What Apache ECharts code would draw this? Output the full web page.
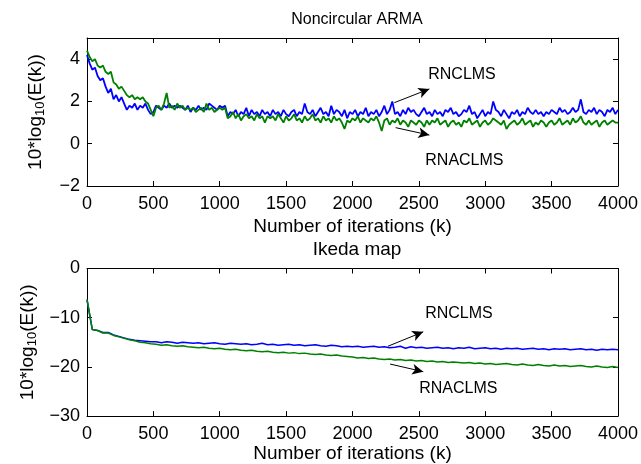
<!DOCTYPE html>
<html>
<head>
<meta charset="utf-8">
<script src="https://cdn.jsdelivr.net/npm/echarts@6/dist/echarts.min.js"></script>
<style>
html,body{margin:0;padding:0;background:#fff;}
#chart{width:641px;height:464px;}
</style>
</head>
<body>
<div id="chart"></div>
<script>
// ---------- data ----------
const titles = ['Noncircular ARMA', 'Ikeda map'];
const xAxisName = 'Number of iterations (k)';
const seriesNames = ['RNCLMS', 'RNACLMS'];
const xTicks = [0, 500, 1000, 1500, 2000, 2500, 3000, 3500, 4000];
const topYTicks = [-2, 0, 2, 4];
const bottomYTicks = [-30, -20, -10, 0];

// Noncircular ARMA, one value every 20 iterations (k = 0..4000)
const topStep = 20;
const topRNCLMS = [
  4.2,3.8,3.5,3.6,3.2,3.0,3.1,2.7,2.4,2.6,
  2.1,2.3,2.0,2.2,1.9,1.6,1.8,1.7,1.9,1.6,
  1.8,1.7,1.9,1.6,1.4,1.5,1.8,1.7,1.6,1.8,
  1.7,1.9,1.7,1.8,1.7,1.8,1.7,1.6,1.8,1.5,
  1.7,1.6,1.8,1.6,1.7,1.6,1.9,1.8,1.7,1.6,
  1.8,1.7,1.8,1.3,1.5,1.4,1.6,1.3,1.5,1.4,
  1.7,1.3,1.6,1.4,1.5,1.3,1.6,1.4,1.5,1.3,
  1.6,1.4,1.5,1.3,1.6,1.4,1.3,1.5,1.6,1.3,
  1.5,1.4,1.9,1.5,1.4,1.6,1.3,1.5,1.7,1.4,
  1.5,1.3,1.8,1.4,1.6,1.5,1.3,1.6,1.2,1.5,
  1.4,1.6,1.3,1.5,1.4,1.7,1.3,1.5,1.4,1.6,
  1.3,1.5,1.8,1.4,1.6,2.0,1.4,1.5,1.3,1.6,
  1.4,1.7,1.5,1.6,1.4,1.3,1.5,1.7,1.4,1.5,
  1.3,1.6,1.4,1.5,1.3,1.6,1.5,1.7,1.4,1.5,
  1.3,1.4,1.6,1.5,1.8,1.4,1.5,1.2,1.4,1.6,
  1.3,1.5,1.4,2.0,1.6,1.5,1.3,1.6,1.4,1.2,
  1.5,1.4,1.6,1.3,1.5,1.4,1.7,1.5,1.4,1.6,
  1.4,1.5,1.3,1.5,1.4,1.6,1.5,1.4,1.7,1.5,
  1.6,1.4,1.5,1.7,1.5,1.6,2.1,1.5,1.4,1.6,
  1.5,1.7,1.4,1.6,1.5,1.3,1.6,1.5,1.7,1.4,
  1.6
];
const topRNACLMS = [
  4.4,4.1,3.9,4.0,3.7,3.6,3.7,3.4,3.3,3.4,
  2.9,2.8,2.6,2.7,2.5,2.3,2.2,2.3,2.1,2.2,
  2.1,2.2,2.0,1.9,1.6,1.3,1.7,1.8,1.6,1.9,
  2.4,1.7,1.8,1.6,1.9,1.7,1.8,1.6,1.7,1.6,
  1.7,1.5,1.6,1.7,1.5,1.9,1.6,1.7,1.5,1.6,
  1.7,1.6,1.7,1.2,1.3,1.5,1.2,1.4,1.1,1.3,
  1.4,1.2,1.3,1.1,1.4,1.2,1.3,1.0,1.3,1.2,
  1.3,1.1,1.4,1.2,1.0,1.3,1.1,1.2,1.4,1.1,
  1.2,1.0,1.3,1.1,1.2,1.4,1.1,1.2,1.0,1.3,
  1.1,1.2,1.0,1.3,1.1,1.2,1.0,0.7,1.1,1.0,
  1.2,1.1,1.3,1.0,1.2,1.1,1.0,1.2,1.1,1.3,
  1.0,0.6,1.1,1.2,0.9,1.1,1.0,1.2,0.9,1.1,
  1.0,0.8,1.1,1.0,0.9,1.1,1.0,0.8,1.1,0.9,
  1.1,1.0,1.2,0.9,1.0,1.1,0.8,1.0,1.1,0.9,
  1.0,0.8,1.1,1.0,1.2,0.9,1.0,1.1,0.8,1.0,
  1.1,0.9,1.0,1.2,1.1,1.0,0.9,1.1,0.7,0.9,
  1.0,1.1,0.9,1.0,1.2,0.9,1.0,1.1,0.8,1.0,
  0.9,1.1,1.0,0.8,1.0,1.1,0.9,1.0,1.2,0.9,
  1.0,1.1,0.9,1.2,1.0,1.1,1.3,1.0,0.9,1.1,
  0.9,1.0,1.1,0.8,1.0,1.1,0.9,1.0,1.1,1.0,
  1.0
];

// Ikeda map, one value every 40 iterations (k = 0..4000)
const bottomStep = 40;
const bottomRNCLMS = [
  -6.3,-12.4,-12.6,-13.0,-13.0,-13.5,-13.8,-14.1,-14.4,-14.6,
  -14.7,-14.8,-14.9,-14.9,-15.1,-14.9,-15.0,-15.2,-15.0,-15.1,
  -15.2,-15.1,-15.3,-15.2,-15.1,-15.3,-15.4,-15.2,-15.3,-15.4,
  -15.3,-15.5,-15.4,-15.2,-15.5,-15.4,-15.6,-15.5,-15.4,-15.6,
  -15.5,-15.7,-15.6,-15.5,-15.7,-15.8,-15.6,-15.7,-15.9,-15.8,
  -15.9,-15.8,-16.0,-15.9,-15.8,-16.0,-15.9,-16.1,-16.0,-15.8,
  -16.2,-15.9,-16.1,-16.0,-16.2,-16.1,-16.0,-16.2,-16.1,-16.3,
  -16.1,-16.2,-16.0,-16.3,-16.2,-16.1,-16.3,-16.2,-16.4,-16.2,
  -16.3,-16.2,-16.4,-16.3,-16.2,-16.4,-16.3,-16.5,-16.3,-16.4,
  -16.3,-16.5,-16.4,-16.3,-16.5,-16.4,-16.6,-16.4,-16.5,-16.4,
  -16.5
];
const bottomRNACLMS = [
  -6.3,-12.4,-12.6,-13.1,-13.1,-13.6,-13.9,-14.2,-14.5,-14.7,
  -15.0,-15.1,-15.3,-15.4,-15.6,-15.5,-15.7,-15.8,-15.7,-15.9,
  -16.0,-16.1,-16.0,-16.2,-16.3,-16.2,-16.4,-16.5,-16.4,-16.6,
  -16.7,-16.6,-16.8,-16.9,-16.8,-17.0,-17.1,-17.0,-17.2,-17.1,
  -17.3,-17.2,-17.4,-17.5,-17.4,-17.6,-17.7,-17.6,-17.8,-17.9,
  -18.0,-18.2,-18.1,-18.3,-18.2,-18.4,-18.5,-18.4,-18.6,-18.5,
  -18.7,-18.6,-18.8,-18.7,-18.9,-18.8,-19.0,-18.9,-19.1,-19.0,
  -19.1,-19.2,-19.1,-19.3,-19.2,-19.4,-19.3,-19.5,-19.4,-19.3,
  -19.5,-19.6,-19.4,-19.6,-19.7,-19.5,-19.7,-19.8,-19.6,-19.8,
  -19.7,-19.9,-19.8,-19.7,-19.9,-20.0,-19.8,-20.0,-20.1,-19.9,
  -20.1
];

// annotation anchors in data units: [k, value]
const topArrowUp = [[2315, 1.94], [2579, 2.59]];
const topArrowDown = [[2325, 0.76], [2579, 0.41]];
const topTextUp = [2825, 3.25];
const topTextDown = [2843, -0.82];
const botArrowUp = [[2267, -15.8], [2533, -12.88]];
const botArrowDown = [[2283, -19.42], [2533, -20.97]];
const botTextUp = [2802, -9.15];
const botTextDown = [2797, -24.45];

// ---------- build ----------
function pairs(vals, step) { return vals.map((v, i) => [i * step, v]); }
const FONT = 'Liberation Sans, Arial, Helvetica, sans-serif';
const BLUE = '#0000ff', GREEN = '#008000';
const fmtNum = v => String(v).replace('-', '\u2212');

function xAx(gridIndex, pos, show, nameGap) {
  return {
    type: 'value', gridIndex, position: pos, min: xTicks[0], max: xTicks[xTicks.length - 1],
    interval: xTicks[1] - xTicks[0],
    name: show ? xAxisName : '', nameLocation: 'middle', nameGap: nameGap || 0,
    nameTextStyle: { fontFamily: FONT, fontSize: 19, color: '#000' },
    axisLine: { show: true, onZero: false, lineStyle: { color: '#000', width: 1 } },
    axisTick: { show: true, inside: true, length: 5, lineStyle: { color: '#000' } },
    axisLabel: { show: show, margin: 9, fontFamily: FONT, fontSize: 18, color: '#000', formatter: fmtNum },
    splitLine: { show: false }
  };
}
function yAx(gridIndex, pos, show, ticks, max) {
  return {
    type: 'value', gridIndex, position: pos, min: ticks[0], max: max,
    interval: ticks[1] - ticks[0],
    name: show ? '10*log{sub|10}(E(k))' : '', nameLocation: 'middle', nameGap: 40,
    nameTextStyle: { fontFamily: FONT, fontSize: 19, color: '#000',
      rich: { sub: { fontFamily: FONT, fontSize: 13, color: '#000', verticalAlign: 'bottom', lineHeight: 22 } } },
    axisLine: { show: true, onZero: false, lineStyle: { color: '#000', width: 1 } },
    axisTick: { show: true, inside: true, length: 5, lineStyle: { color: '#000' } },
    axisLabel: { show: show, margin: 7, fontFamily: FONT, fontSize: 18, color: '#000',
      showMaxLabel: ticks.indexOf(max) >= 0,
      formatter: v => (ticks.indexOf(v) >= 0 ? fmtNum(v) : '') },
    splitLine: { show: false }
  };
}
function arrowLine(a) {
  return {
    silent: true, symbol: ['none', 'arrow'], symbolSize: [8, 11],
    lineStyle: { color: '#000', width: 1, type: 'solid' }, label: { show: false },
    emphasis: { disabled: true },
    data: a.map(p => [{ coord: p[0] }, { coord: p[1] }])
  };
}
function textPoints(items) {
  return {
    silent: true, symbol: 'circle', symbolSize: 0,
    label: { show: true, position: 'inside', color: '#000', fontFamily: FONT, fontSize: 16,
      formatter: p => p.name },
    data: items.map(it => ({ name: it[0], coord: it[1] }))
  };
}

const option = {
  animation: false,
  backgroundColor: '#fff',
  title: [
    { text: titles[0], left: 352, top: 7, textAlign: 'center',
      textStyle: { fontFamily: FONT, fontSize: 16, fontWeight: 'normal', color: '#000' } },
    { text: titles[1], left: 352, top: 235, textAlign: 'center',
      textStyle: { fontFamily: FONT, fontSize: 19, fontWeight: 'normal', color: '#000' } }
  ],
  grid: [
    { left: 87, right: 23, top: 38, height: 148, containLabel: false },
    { left: 87, right: 23, top: 268.5, height: 149, containLabel: false }
  ],
  xAxis: [xAx(0, 'bottom', true, 31), xAx(0, 'top', false), xAx(1, 'bottom', true, 23), xAx(1, 'top', false)],
  yAxis: [yAx(0, 'left', true, topYTicks, 5), yAx(0, 'right', false, topYTicks, 5),
          yAx(1, 'left', true, bottomYTicks, 0), yAx(1, 'right', false, bottomYTicks, 0)],
  series: [
    { name: seriesNames[0], type: 'line', xAxisIndex: 0, yAxisIndex: 0, data: pairs(topRNCLMS, topStep),
      showSymbol: false, lineStyle: { color: BLUE, width: 1.8 }, itemStyle: { color: BLUE }, z: 2,
      markLine: arrowLine([topArrowUp, topArrowDown]),
      markPoint: textPoints([[seriesNames[0], topTextUp], [seriesNames[1], topTextDown]]) },
    { name: seriesNames[1], type: 'line', xAxisIndex: 0, yAxisIndex: 0, data: pairs(topRNACLMS, topStep),
      showSymbol: false, lineStyle: { color: GREEN, width: 1.8 }, itemStyle: { color: GREEN }, z: 3 },
    { name: seriesNames[0], type: 'line', xAxisIndex: 2, yAxisIndex: 2, data: pairs(bottomRNCLMS, bottomStep),
      showSymbol: false, lineStyle: { color: BLUE, width: 1.5 }, itemStyle: { color: BLUE }, z: 2,
      markLine: arrowLine([botArrowUp, botArrowDown]),
      markPoint: textPoints([[seriesNames[0], botTextUp], [seriesNames[1], botTextDown]]) },
    { name: seriesNames[1], type: 'line', xAxisIndex: 2, yAxisIndex: 2, data: pairs(bottomRNACLMS, bottomStep),
      showSymbol: false, lineStyle: { color: GREEN, width: 1.5 }, itemStyle: { color: GREEN }, z: 3 }
  ]
};
const chart = echarts.init(document.getElementById('chart'), null, { renderer: 'canvas' });
chart.setOption(option);
</script>
</body>
</html>
